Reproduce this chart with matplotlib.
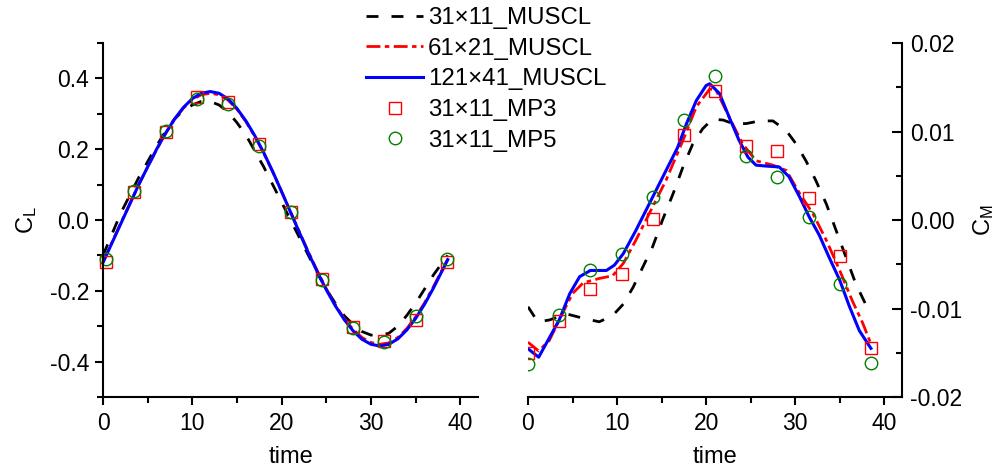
import numpy as np
import matplotlib
matplotlib.use("Agg")
import matplotlib.pyplot as plt
from matplotlib.ticker import MultipleLocator, FormatStrFormatter

plt.rcParams["font.family"] = ["Liberation Sans", "DejaVu Sans"]
plt.rcParams["mathtext.default"] = "regular"

# ---- C_L panel ----
t_cl = [0, 1, 2, 3, 4, 5, 6, 7, 8, 9, 10, 11, 12, 13, 14, 15, 16, 17, 18, 19,
        20, 21, 22, 23, 24, 25, 26, 27, 28, 29, 30, 31, 32, 33, 34, 35, 36, 37, 38, 38.6]
cl_121 = [-0.120, -0.065, -0.010, 0.045, 0.100, 0.150, 0.200, 0.245, 0.285, 0.318,
          0.343, 0.358, 0.363, 0.358, 0.342, 0.315, 0.280, 0.238, 0.190, 0.137,
          0.080, 0.022, -0.036, -0.093, -0.147, -0.197, -0.242, -0.281, -0.313, -0.337,
          -0.351, -0.356, -0.351, -0.336, -0.311, -0.278, -0.238, -0.192, -0.142, -0.112]
cl_61 = [-0.118, -0.063, -0.008, 0.046, 0.100, 0.150, 0.199, 0.244, 0.284, 0.316,
         0.340, 0.354, 0.358, 0.354, 0.339, 0.313, 0.278, 0.236, 0.189, 0.136,
         0.080, 0.023, -0.034, -0.090, -0.144, -0.194, -0.239, -0.278, -0.309, -0.332,
         -0.346, -0.351, -0.347, -0.332, -0.307, -0.274, -0.234, -0.188, -0.139, -0.110]
cl_31 = [-0.100, -0.040, 0.020, 0.070, 0.120, 0.165, 0.210, 0.250, 0.285, 0.310,
         0.325, 0.335, 0.335, 0.325, 0.305, 0.275, 0.240, 0.195, 0.150, 0.100,
         0.050, 0.000, -0.050, -0.100, -0.150, -0.195, -0.235, -0.270, -0.295, -0.315,
         -0.325, -0.325, -0.320, -0.300, -0.270, -0.235, -0.195, -0.155, -0.120, -0.100]

t_mk_cl = [0.3, 3.5, 7.0, 10.5, 14.0, 17.5, 21.0, 24.5, 28.0, 31.5, 35.0, 38.5]
cl_mp3 = [-0.118, 0.080, 0.249, 0.348, 0.334, 0.216, 0.024, -0.167, -0.301, -0.343, -0.282, -0.119]
cl_mp5 = [-0.109, 0.083, 0.252, 0.343, 0.329, 0.210, 0.023, -0.169, -0.304, -0.345, -0.271, -0.109]

# ---- C_M panel ----
t_cm121 = [0, 1.2, 3.5, 4.7, 5.8, 7.0, 8.8, 9.7, 10.7, 12.1, 14.0, 15.5, 16.8, 17.8,
           18.9, 20.0, 20.4, 21.5, 22.6, 23.7, 24.7, 25.6, 26.7, 28.2, 29.3, 30.5,
           31.6, 32.7, 33.8, 35.0, 36.1, 37.2, 38.5]
cm_121 = [-0.01454, -0.0155, -0.0113, -0.0083, -0.0064, -0.0057, -0.0057, -0.0051,
          -0.0038, -0.0012, 0.0026, 0.0056, 0.0082, 0.0109, 0.0135, 0.0152, 0.0154,
          0.0143, 0.0116, 0.0090, 0.0071, 0.0062, 0.0061, 0.0060, 0.0049, 0.0026,
          0.0003, -0.0017, -0.0042, -0.0068, -0.0098, -0.0125, -0.0145]
t_cm61 = [0, 1.2, 2.4, 3.5, 5.0, 6.2, 8.0, 9.5, 10.7, 12.1, 14.0, 15.5, 17.4, 18.9,
          20.4, 21.1, 22.6, 24.1, 25.6, 27.5, 29.0, 30.5, 32.0, 33.5, 35.0, 36.4, 37.6, 38.5]
cm_61 = [-0.0138, -0.0148, -0.0136, -0.0113, -0.0083, -0.0071, -0.0066, -0.0063,
         -0.0049, -0.0023, 0.0015, 0.0045, 0.0090, 0.0128, 0.0148, 0.0147, 0.0116,
         0.0086, 0.0067, 0.0062, 0.0056, 0.0030, 0.0007, -0.0023, -0.0057, -0.0091,
         -0.0117, -0.0140]
t_cm31 = [0, 1.1, 2.4, 4.3, 6.2, 8.0, 9.5, 10.7, 11.8, 12.9, 14.0, 15.1, 16.3, 17.4,
          18.5, 19.6, 20.7, 21.9, 23.0, 24.5, 26.0, 27.5, 29.0, 30.1, 31.2, 32.3,
          33.5, 34.6, 35.7, 36.8, 37.9, 38.5]
cm_31 = [-0.0098, -0.0115, -0.0113, -0.0106, -0.0111, -0.0115, -0.0108, -0.0095,
         -0.0076, -0.0053, -0.0030, 0.0000, 0.0030, 0.0060, 0.0086, 0.0103, 0.0114,
         0.0113, 0.0109, 0.0109, 0.0112, 0.0112, 0.0101, 0.0086, 0.0067, 0.0045,
         0.0018, -0.0012, -0.0042, -0.0072, -0.0095, -0.0102]

t_mk_cm = [0.0, 3.5, 7.0, 10.5, 14.0, 17.5, 21.0, 24.5, 28.0, 31.5, 35.0, 38.5]
cm_mp3 = [-0.0150, -0.01141, -0.0078, -0.00606, 0.0001, 0.00957, 0.01458, 0.00836,
          0.00776, 0.00249, -0.0041, -0.01443]
cm_mp5 = [-0.01623, -0.01077, -0.00561, -0.0038, 0.0026, 0.01134, 0.01623, 0.00723,
          0.00486, 0.00034, -0.0072, -0.0162]

labels = ["31\u00d711_MUSCL", "61\u00d721_MUSCL", "121\u00d741_MUSCL",
          "31\u00d711_MP3", "31\u00d711_MP5"]

fs_tick = 16.5
fs_lab = 17
fs_leg = 17.3
fig = plt.figure(figsize=(10.03, 4.74), dpi=100)
ax1 = fig.add_axes([0.1027, 0.1624, 0.374, 0.7468])
ax2 = fig.add_axes([0.5264, 0.1624, 0.373, 0.7468])

dash_k = dict(color="black", lw=2.0, dashes=(4.3, 4.7))
dash_r = dict(color="red", lw=2.0, dashes=(5.0, 1.6, 1.6, 1.6))
solid_b = dict(color="blue", lw=2.2)
sq = dict(ls="none", marker="s", ms=8, mfc="none", mec="red", mew=1.0)
ci = dict(ls="none", marker="o", ms=9, mfc="none", mec="green", mew=1.0)

h1, = ax1.plot(t_cl, cl_31, **dash_k)
h2, = ax1.plot(t_cl, cl_61, **dash_r)
h3, = ax1.plot(t_cl, cl_121, **solid_b)
h4, = ax1.plot(t_mk_cl, cl_mp3, clip_on=False, **sq)
h5, = ax1.plot(t_mk_cl, cl_mp5, clip_on=False, **ci)

ax2.plot(t_cm31, cm_31, **dash_k)
ax2.plot(t_cm61, cm_61, **dash_r)
ax2.plot(t_cm121, cm_121, **solid_b)
ax2.plot(t_mk_cm, cm_mp3, **sq)
ax2.plot(t_mk_cm, cm_mp5, **ci)

for ax in (ax1, ax2):
    ax.set_xlim(0, 42)
    ax.xaxis.set_major_locator(MultipleLocator(10))
    ax.xaxis.set_minor_locator(MultipleLocator(5))
    ax.spines["top"].set_visible(False)
    for s in ax.spines.values():
        s.set_linewidth(1.5)
    ax.tick_params(axis="x", which="major", direction="out", length=6, width=1.5,
                   labelsize=fs_tick, pad=5)
    ax.tick_params(axis="x", which="minor", direction="out", length=4, width=1.5)
    ax.set_xlabel("time", fontsize=fs_lab, labelpad=8)

ax1.spines["right"].set_visible(False)
ax1.set_ylim(-0.5, 0.5)
ax1.yaxis.set_major_locator(MultipleLocator(0.2))
ax1.yaxis.set_minor_locator(MultipleLocator(0.1))
ax1.yaxis.set_major_formatter(FormatStrFormatter("%.1f"))
ax1.tick_params(axis="y", which="major", direction="out", length=6, width=1.5,
                labelsize=fs_tick, pad=4)
ax1.tick_params(axis="y", which="minor", direction="out", length=4, width=1.5)
ax1.set_ylabel("C$_L$", fontsize=fs_lab, labelpad=8)

ax2.spines["left"].set_visible(False)
ax2.set_ylim(-0.02, 0.02)
ax2.yaxis.tick_right()
ax2.yaxis.set_label_position("right")
ax2.yaxis.set_major_locator(MultipleLocator(0.01))
ax2.yaxis.set_minor_locator(MultipleLocator(0.005))
ax2.yaxis.set_major_formatter(FormatStrFormatter("%.2f"))
ax2.tick_params(axis="y", which="major", direction="in", length=7, width=1.5,
                labelsize=fs_tick, pad=6)
ax2.tick_params(axis="y", which="minor", direction="in", length=4, width=1.5)
ax2.set_ylabel("C$_M$", fontsize=fs_lab, labelpad=6)

fig.legend([h1, h2, h3, h4, h5], labels, loc="upper left",
           bbox_to_anchor=(0.365, 0.985), frameon=False, fontsize=fs_leg,
           handlelength=2.37, handletextpad=0.2, labelspacing=0.36,
           borderpad=0, borderaxespad=0)

fig.savefig("out.png", dpi=100)
